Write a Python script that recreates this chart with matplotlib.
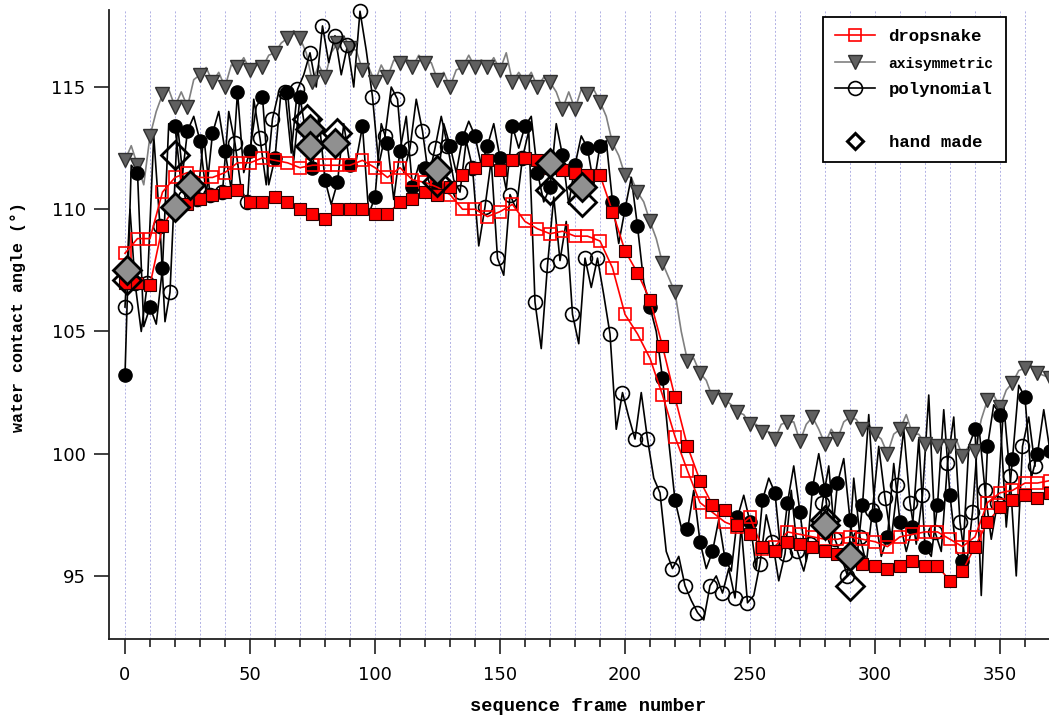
import numpy as np
import matplotlib.pyplot as plt
from matplotlib.lines import Line2D
from matplotlib.ticker import MultipleLocator

# dropsnake, one value every 5 frames (open squares = legend series)
dropsnake_open = [108.2, 108.8, 108.8, 110.7, 111.3, 111.5, 111.3, 111.3, 111.5, 111.9,
                  111.9, 112.1, 112.0, 111.9, 111.7, 111.8, 111.8, 111.8, 111.8, 112.0,
                  111.7, 111.3, 111.7, 111.2, 111.1, 110.9, 110.6, 110.0, 110.0, 109.7,
                  109.9, 110.2, 109.5, 109.2, 109.0, 109.1, 108.9, 108.9, 108.7, 107.6,
                  105.7, 104.9, 103.9, 102.4, 100.7, 99.3, 98.0, 97.6, 97.2, 97.0,
                  97.4, 96.1, 96.2, 96.8, 96.7, 96.6, 96.5, 96.5, 96.6, 96.5,
                  96.4, 96.2, 96.6, 96.7, 96.8, 96.8, 96.5, 96.2, 96.6, 98.0,
                  98.4, 98.5, 98.8, 98.8, 98.9]
# dropsnake, other side (filled squares)
dropsnake_fill = [107.0, 107.0, 106.9, 109.3, 110.1, 110.2, 110.4, 110.6, 110.7, 110.8,
                  110.3, 110.3, 110.5, 110.3, 110.0, 109.8, 109.6, 110.0, 110.0, 110.0,
                  109.8, 109.8, 110.3, 110.4, 110.7, 110.6, 110.9, 111.4, 111.7, 112.0,
                  111.6, 112.0, 112.1, 112.0, 111.7, 111.6, 111.5, 111.4, 111.4, 109.9,
                  108.3, 107.4, 106.3, 104.4, 102.3, 100.3, 98.9, 97.9, 97.7, 97.1,
                  96.7, 96.2, 96.0, 96.4, 96.3, 96.2, 96.0, 95.9, 95.7, 95.5,
                  95.4, 95.3, 95.4, 95.6, 95.4, 95.4, 94.8, 95.2, 96.2, 97.2,
                  97.8, 98.1, 98.3, 98.2, 98.4]

# axisymmetric: markers every 5 frames, plus trace values in between
axisym = [112.0, 111.8, 113.0, 114.7, 114.2, 114.2, 115.5, 115.2, 115.0, 115.8,
          115.7, 115.8, 116.4, 117.0, 117.0, 115.2, 115.4, 116.8, 116.6, 115.7,
          115.2, 115.4, 116.0, 115.8, 116.0, 115.3, 115.0, 115.8, 115.8, 115.8,
          115.7, 115.2, 115.2, 115.0, 115.2, 114.1, 114.1, 114.7, 114.4, 112.7,
          111.4, 110.7, 109.5, 107.8, 106.6, 103.8, 103.3, 102.3, 102.2, 101.7,
          101.2, 100.9, 100.6, 101.3, 100.5, 101.5, 100.4, 100.6, 101.5, 101.0,
          100.8, 100.0, 101.0, 100.8, 100.4, 100.3, 100.3, 99.9, 100.1, 102.2,
          101.9, 102.9, 103.5, 103.3, 103.1]
axisym_mid = [112.6, 111.0, 114.0, 114.9, 114.8, 115.3, 115.8, 115.6, 115.9, 116.2,
              116.0, 116.3, 116.8, 117.3, 116.4, 115.9, 116.4, 117.1, 116.5, 115.8,
              115.9, 116.1, 116.2, 116.3, 116.0, 115.6, 115.7, 116.3, 116.1, 116.2,
              116.4, 115.6, 115.6, 115.4, 114.8, 114.8, 114.9, 114.9, 113.8, 112.2,
              111.3, 110.3, 108.8, 107.2, 105.0, 103.9, 103.0, 102.6, 102.0, 101.6,
              101.2, 100.9, 101.2, 101.3, 101.2, 101.0, 101.0, 101.3, 101.4, 101.2,
              100.6, 100.8, 101.6, 100.8, 100.6, 100.5, 100.6, 100.3, 101.4, 102.4,
              102.6, 103.4, 103.6, 103.2]

# polynomial, other side (filled circles), every 5 frames + spikes in between
poly_fill = [103.2, 111.5, 106.0, 107.6, 113.4, 113.2, 112.8, 113.1, 112.4, 114.8,
             112.4, 114.6, 112.1, 114.8, 114.6, 111.7, 111.2, 111.1, 111.8, 113.4,
             110.5, 112.7, 112.4, 110.9, 111.7, 110.9, 112.6, 112.9, 113.0, 112.6,
             112.1, 113.4, 113.4, 111.5, 110.9, 112.2, 111.8, 112.5, 112.6, 110.3,
             110.0, 109.3, 106.0, 103.1, 98.1, 96.9, 96.4, 96.0, 95.7, 97.4,
             97.2, 98.1, 98.4, 98.0, 97.6, 98.6, 98.5, 98.8, 97.3, 97.9,
             97.5, 96.6, 97.2, 97.0, 96.2, 97.9, 98.3, 95.6, 101.0, 100.3,
             101.6, 99.8, 102.3, 100.0, 100.1]
poly_fill_mid = [111.8, 105.2, 105.3, 113.5, 111.0, 113.8, 110.6, 114.0, 110.8, 111.5,
                 114.2, 111.0, 114.9, 112.0, 113.0, 113.8, 110.2, 113.5, 112.0, 109.8,
                 113.5, 110.4, 113.8, 111.8, 110.8, 113.5, 111.5, 113.6, 111.8, 113.5,
                 110.8, 112.5, 113.8, 110.3, 113.5, 110.2, 113.0, 111.0, 112.8, 108.6,
                 111.3, 107.0, 105.0, 100.5, 97.0, 98.5, 95.3, 97.3, 95.2, 98.3,
                 95.3, 99.0, 95.8, 99.5, 95.6, 100.0, 96.2, 99.8, 95.5, 101.6,
                 95.8, 99.6, 96.0, 100.6, 95.8, 101.8, 96.0, 100.3, 94.2, 102.0,
                 97.0, 102.8, 99.0, 101.8]

# polynomial (open circles, legend series)
poly_x = [0, 4, 9, 14, 18, 24, 29, 34, 39, 44, 49, 54, 59, 64, 69, 74, 79, 84, 89, 94,
          99, 104, 109, 114, 119, 124, 129, 134, 139, 144, 149, 154, 159, 164, 169, 174,
          179, 184, 189, 194, 199, 204, 209, 214, 219, 224, 229, 234, 239, 244, 249, 254,
          259, 264, 269, 274, 279, 284, 289, 294, 299, 304, 309, 314, 319, 324, 329, 334,
          339, 344, 349, 354, 359, 364]
poly_open = [106.0, 107.0, 107.0, 109.3, 106.6, 110.5, 110.4, 110.6, 110.7, 112.7,
             110.3, 112.9, 113.7, 114.8, 114.9, 116.4, 117.5, 117.1, 116.7, 118.1,
             114.6, 113.0, 114.5, 112.5, 113.2, 112.5, 112.6, 110.7, 111.7, 110.1,
             108.0, 110.6, 112.1, 106.2, 107.7, 107.9, 105.7, 108.0, 108.0, 104.9,
             102.5, 100.6, 100.6, 98.4, 95.3, 94.6, 93.5, 94.6, 94.3, 94.1,
             93.9, 95.5, 96.4, 95.9, 96.0, 96.3, 98.0, 96.5, 95.0, 96.6,
             97.7, 98.2, 98.7, 98.0, 98.3, 96.8, 99.6, 97.2, 97.6, 98.5,
             98.0, 99.1, 100.3, 99.5]
poly_open_mid = [110.0, 105.0, 113.0, 105.4, 113.5, 110.0, 113.0, 110.5, 114.0, 110.8,
                 114.5, 111.0, 114.8, 112.3, 115.5, 115.0, 116.0, 115.5, 115.0, 116.5,
                 111.8, 115.0, 111.5, 114.5, 111.3, 113.8, 111.2, 112.8, 108.5, 112.0,
                 107.3, 110.0, 113.2, 104.3, 110.5, 109.5, 104.5, 106.8, 106.5, 101.0,
                 101.5, 102.5, 99.0, 96.0, 95.8, 94.0, 93.2, 95.0, 95.3, 97.0,
                 94.2, 97.5, 94.8, 98.5, 95.2, 96.0, 99.5, 95.8, 99.0, 95.5,
                 100.3, 96.5, 101.0, 96.3, 102.4, 96.0, 101.5, 95.3, 101.2, 96.5,
                 102.0, 95.0, 101.5]

# hand made measurements
hand_gray_x = [1, 20, 26, 74, 74, 84, 125, 170, 183, 280, 290]
hand_gray = [107.5, 110.1, 111.0, 113.3, 112.6, 112.7, 111.6, 111.9, 110.9, 97.1, 95.8]
hand_open_x = [1, 20, 73, 85, 125, 170, 183, 280, 290]
hand_open = [107.1, 112.2, 113.7, 113.1, 111.1, 110.8, 110.3, 97.3, 94.6]

x_ticks = [0, 50, 100, 150, 200, 250, 300, 350]
y_ticks = [95, 100, 105, 110, 115]


def frames(vals):
    return np.arange(len(vals)) * 5


def trace(xs, vals, mids):
    # marker values with the in-between trace values slotted in
    tx, ty = [], []
    for i, (x, v) in enumerate(zip(xs, vals)):
        tx.append(x)
        ty.append(v)
        if i < len(mids) and i + 1 < len(xs):
            tx.append((x + xs[i + 1]) / 2)
            ty.append(mids[i])
    return tx, ty


fig = plt.figure(figsize=(10.49, 7.2), dpi=100)
ax = fig.add_axes([0.1039, 0.1125, 0.8961, 0.8736])

# axisymmetric
fx = frames(axisym)
tx, ty = trace(list(fx), axisym, axisym_mid)
ax.plot(tx, ty, color='#808080', lw=1.2, zorder=2)
ax.plot(fx, axisym, ls='none', marker='v', ms=10, mfc='#606060', mec='#303030', mew=1, zorder=3)

# polynomial open
tx, ty = trace(poly_x, poly_open, poly_open_mid)
ax.plot(tx, ty, color='black', lw=1.2, zorder=2)
ax.plot(poly_x, poly_open, ls='none', marker='o', ms=10, mfc='none', mec='black', mew=1.2,
        zorder=3, clip_on=False)

# polynomial filled
fx = frames(poly_fill)
tx, ty = trace(list(fx), poly_fill, poly_fill_mid)
ax.plot(tx, ty, color='black', lw=1.2, zorder=2)
ax.plot(fx, poly_fill, ls='none', marker='o', ms=9.5, mfc='black', mec='black', zorder=3)

# dropsnake
ax.plot(frames(dropsnake_open), dropsnake_open, color='red', lw=1.2, marker='s', ms=9,
        mfc='none', mec='red', mew=1.2, zorder=4)
ax.plot(frames(dropsnake_fill), dropsnake_fill, color='red', lw=1.2, marker='s', ms=9,
        mfc='red', mec='#300000', mew=0.8, zorder=5)

# hand made
ax.plot(hand_open_x, hand_open, ls='none', marker='D', ms=14, mfc='none', mec='black',
        mew=2, zorder=6)
ax.plot(hand_gray_x, hand_gray, ls='none', marker='D', ms=14, mfc='#909090', mec='black',
        mew=2, zorder=7)

ax.set_xlim(-6.4, 369.6)
ax.set_ylim(92.42, 118.15)
ax.set_xticks(x_ticks)
ax.set_yticks(y_ticks)
ax.xaxis.set_minor_locator(MultipleLocator(10))
ax.grid(axis='x', which='both', color='#b0b0e4', ls=(0, (2, 2)), lw=0.7, zorder=0)

for s in ['top', 'right']:
    ax.spines[s].set_visible(False)
for s in ['left', 'bottom']:
    ax.spines[s].set_linewidth(1.3)
    ax.spines[s].set_color('#202020')

ax.tick_params(axis='both', which='major', direction='out', length=10.8, width=1.2,
               labelsize=13, color='#202020')
ax.tick_params(axis='x', which='minor', direction='out', length=6, width=1.2, color='#202020')
ax.tick_params(axis='x', which='major', pad=9)
ax.tick_params(axis='y', which='major', pad=6)

mono = 'Liberation Mono'
ax.set_xlabel('sequence frame number', family=mono, weight='bold', fontsize=13.5)
ax.set_ylabel('water contact angle (°)', family=mono, weight='bold', fontsize=12)
ax.xaxis.set_label_coords(0.5096, -0.094)
ax.yaxis.set_label_coords(-0.0883, 0.512)

handles = [
    Line2D([], [], color='red', lw=1.2, marker='s', ms=9, mfc='none', mec='red', mew=1.2),
    Line2D([], [], color='#808080', lw=1.2, marker='v', ms=10, mfc='#606060', mec='#303030'),
    Line2D([], [], color='black', lw=1.2, marker='o', ms=10, mfc='none', mec='black', mew=1.2),
    Line2D([], [], ls='none', marker='none'),
    Line2D([], [], ls='none', marker='D', ms=8, mfc='none', mec='black', mew=2.2),
]
labels = ['dropsnake', 'axisymmetric', 'polynomial', ' ', 'hand made']
leg = ax.legend(handles, labels, loc='upper right', bbox_to_anchor=(0.954, 0.989),
                borderaxespad=0, fancybox=False, framealpha=1, edgecolor='black',
                prop={'family': mono, 'weight': 'bold', 'size': 12.5},
                handlelength=2.3, labelspacing=0.65, borderpad=0.7, handletextpad=0.8)
leg.get_frame().set_linewidth(1.3)
leg.get_texts()[1].set_fontsize(10.5)
leg.set_zorder(10)

fig.savefig('out.png', dpi=100)
